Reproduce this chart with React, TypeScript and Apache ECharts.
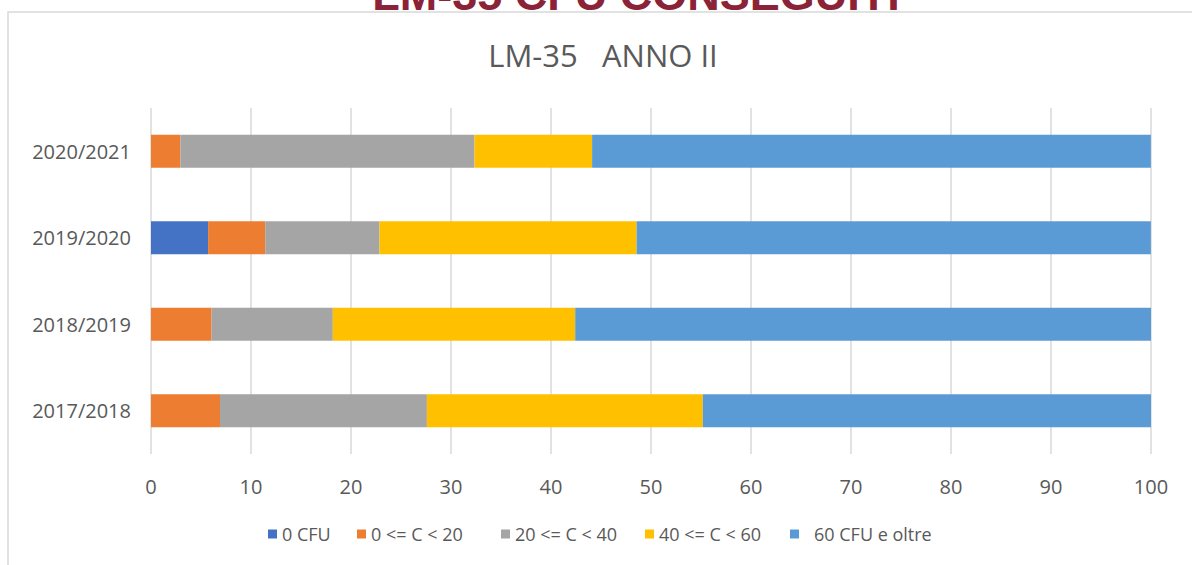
import React, { useEffect, useRef } from "react";
import * as echarts from "echarts";

const categories = ["2017/2018", "2018/2019", "2019/2020", "2020/2021"];
const seriesNames = ["0 CFU", "0 <= C < 20", "20 <= C < 40", "40 <= C < 60", "60 CFU e oltre"];
const cfu0 = [0, 0, 5.71, 0];
const c0to20 = [6.9, 6.06, 5.71, 2.94];
const c20to40 = [20.69, 12.12, 11.43, 29.41];
const c40to60 = [27.59, 24.24, 25.71, 11.76];
const c60plus = [44.83, 57.58, 51.43, 55.88];
const xTicks = { min: 0, max: 100, interval: 10 };
const colors = ["#4472C4", "#ED7D31", "#A5A5A5", "#FFC000", "#5B9BD5"];

const mainTitle = "LM-35 CFU CONSEGUITI";
const chartTitle = "LM-35   ANNO II";

const legendLeft = [268, 357, 501, 645, 790];
const legendTextPad = [0, 0, 0, 0, 10];

export default function App() {
  const ref = useRef<HTMLDivElement>(null);
  useEffect(() => {
    document.body.style.margin = "0";
    if (!ref.current) return;
    const chart = echarts.init(ref.current, undefined, { renderer: "svg" });
    const values = [cfu0, c0to20, c20to40, c40to60, c60plus];
    const font = "'Open Sans', sans-serif";
    chart.setOption({
      animation: false,
      textStyle: { fontFamily: font },
      graphic: [
        {
          type: "rect",
          shape: { x: 8, y: 12, width: 1300, height: 700 },
          style: { fill: "none", stroke: "#d9d9d9", lineWidth: 1.5 },
          silent: true,
          z: -1,
        },
        {
          type: "text",
          x: 636,
          y: -6,
          style: {
            text: mainTitle,
            fill: "#8B2338",
            font: "bold 45px 'Liberation Sans', Arial, sans-serif",
            align: "center",
            verticalAlign: "middle",
          },
        },
        {
          type: "text",
          x: 603,
          y: 55,
          style: {
            text: chartTitle,
            fill: "#595959",
            font: `31px ${font}`,
            align: "center",
            verticalAlign: "middle",
            whiteSpace: "pre",
          },
        },
      ],
      legend: seriesNames.map((name, i) => ({
        left: legendLeft[i],
        top: 525,
        icon: "rect",
        itemWidth: 9,
        itemHeight: 9,
        padding: 0,
        selectedMode: false,
        textStyle: {
          fontFamily: font,
          fontSize: 18,
          color: "#595959",
          padding: [0, 0, 0, legendTextPad[i]],
        },
        data: [name],
      })),
      grid: { left: 151, right: 41, top: 108, bottom: 111 },
      xAxis: {
        type: "value",
        min: xTicks.min,
        max: xTicks.max,
        interval: xTicks.interval,
        axisLine: { show: false },
        axisTick: { show: false },
        splitLine: { lineStyle: { color: "#d9d9d9", width: 1.5 } },
        axisLabel: { fontFamily: font, fontSize: 20, color: "#595959", margin: 22 },
      },
      yAxis: {
        type: "category",
        data: categories,
        axisLine: { show: false },
        axisTick: { show: false },
        axisLabel: { fontFamily: font, fontSize: 20, color: "#595959", margin: 20 },
      },
      series: seriesNames.map((name, i) => ({
        name,
        type: "bar",
        stack: "total",
        barWidth: 33,
        itemStyle: { color: colors[i] },
        data: values[i],
      })),
    });
    return () => chart.dispose();
  }, []);
  return <div ref={ref} style={{ width: 1192, height: 565 }} />;
}
